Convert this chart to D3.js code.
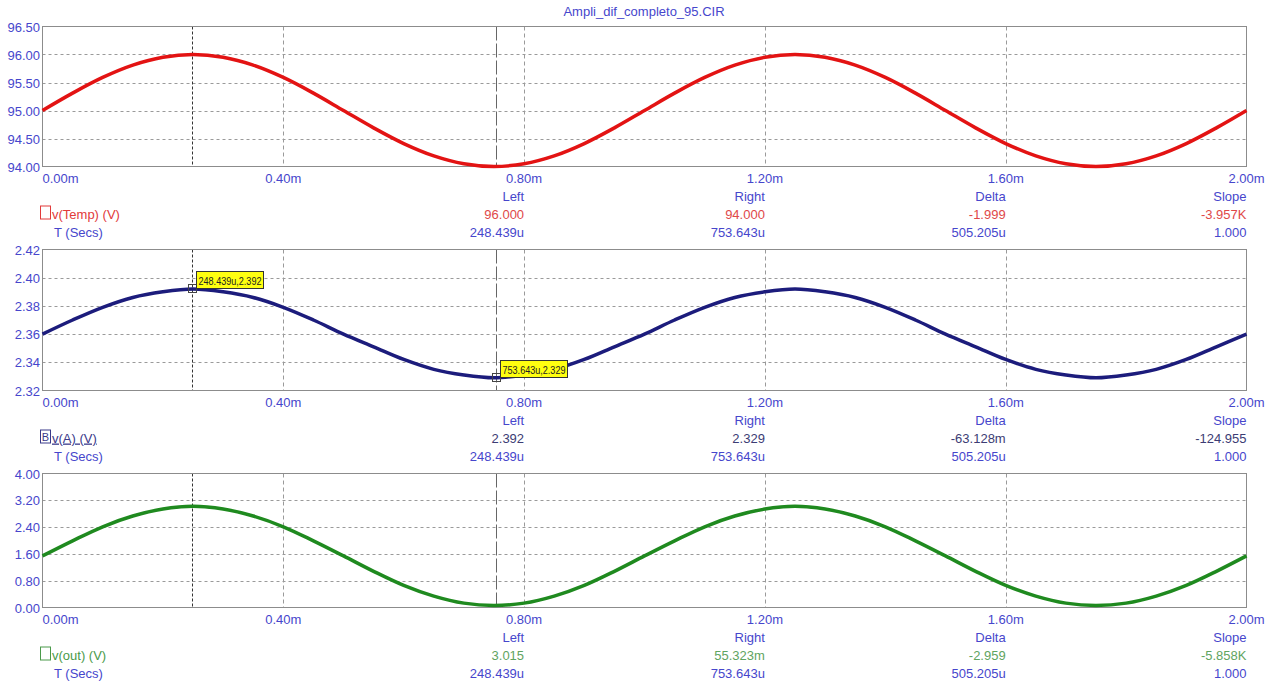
<!DOCTYPE html>
<html>
<head>
<meta charset="utf-8">
<script src="https://cdn.jsdelivr.net/npm/d3@7"></script>
<style>
  html, body { margin: 0; padding: 0; background: #fff; }
  svg { display: block; font-family: "Liberation Sans", Arial, sans-serif; }
</style>
</head>
<body>
<svg width="1274" height="684"></svg>
<script>
// time axis, in ms
const timeMs = [0, 0.05, 0.1, 0.15, 0.2, 0.25, 0.3, 0.35, 0.4, 0.45, 0.5, 0.55, 0.6, 0.65, 0.7,
  0.75, 0.8, 0.85, 0.9, 0.95, 1.0, 1.05, 1.1, 1.15, 1.2, 1.25, 1.3, 1.35, 1.4, 1.45, 1.5,
  1.55, 1.6, 1.65, 1.7, 1.75, 1.8, 1.85, 1.9, 1.95, 2.0];

const tempValues = [95.00, 95.31, 95.59, 95.81, 95.95, 96.00, 95.95, 95.81, 95.59, 95.31, 95.00,
  94.69, 94.41, 94.19, 94.05, 94.00, 94.05, 94.19, 94.41, 94.69, 95.00,
  95.31, 95.59, 95.81, 95.95, 96.00, 95.95, 95.81, 95.59, 95.31, 95.00,
  94.69, 94.41, 94.19, 94.05, 94.00, 94.05, 94.19, 94.41, 94.69, 95.00];

const vaValues = [2.360, 2.370, 2.379, 2.386, 2.390, 2.392, 2.390, 2.386, 2.379, 2.370, 2.360,
  2.351, 2.342, 2.335, 2.331, 2.329, 2.331, 2.335, 2.342, 2.351, 2.360,
  2.370, 2.379, 2.386, 2.390, 2.392, 2.390, 2.386, 2.379, 2.370, 2.360,
  2.351, 2.342, 2.335, 2.331, 2.329, 2.331, 2.335, 2.342, 2.351, 2.360];

const voutValues = [1.54, 1.99, 2.41, 2.73, 2.94, 3.02, 2.94, 2.73, 2.41, 1.99, 1.54,
  1.08, 0.66, 0.34, 0.13, 0.06, 0.13, 0.34, 0.66, 1.08, 1.54,
  1.99, 2.41, 2.73, 2.94, 3.02, 2.94, 2.73, 2.41, 1.99, 1.54,
  1.08, 0.66, 0.34, 0.13, 0.06, 0.13, 0.34, 0.66, 1.08, 1.54];

const xTicks = [0, 0.4, 0.8, 1.2, 1.6, 2.0];
const xTickLabels = ["0.00m", "0.40m", "0.80m", "1.20m", "1.60m", "2.00m"];

const tempTicks = [94.0, 94.5, 95.0, 95.5, 96.0, 96.5];
const vaTicks = [2.32, 2.34, 2.36, 2.38, 2.40, 2.42];
const voutTicks = [0.0, 0.8, 1.6, 2.4, 3.2, 4.0];

// cursor positions (ms)
const cursorLeft = 0.248439;
const cursorRight = 0.753643;

const readoutHeads = ["Left", "Right", "Delta", "Slope"];
const tempReadout = ["96.000", "94.000", "-1.999", "-3.957K"];
const vaReadout = ["2.392", "2.329", "-63.128m", "-124.955"];
const voutReadout = ["3.015", "55.323m", "-2.959", "-5.858K"];
const timeReadout = ["248.439u", "753.643u", "505.205u", "1.000"];

const cursorTips = ["248.439u,2.392", "753.643u,2.329"];
const cursorTipValues = [2.392, 2.329];

const title = "Ampli_dif_completo_95.CIR";

// ---------------- rendering ----------------
const blue = "#4646cc";
const svg = d3.select("svg");

const x = d3.scaleLinear().domain([0, 2]).range([42.5, 1246.5]);

const panels = [
  { values: tempValues, ticks: tempTicks, fmt: d3.format(".2f"), top: 26.5, bottom: 166.5,
    color: "#e31313", label: "v(Temp) (V)", labelColor: "#e23a3a", valueColor: "#e04848",
    readout: tempReadout },
  { values: vaValues, ticks: vaTicks, fmt: d3.format(".2f"), top: 249.5, bottom: 390.5,
    color: "#1c1c7c", label: "v(A) (V)", labelColor: "#3a3a8a", valueColor: "#3c3c74",
    readout: vaReadout, boxed: "B", tips: true },
  { values: voutValues, ticks: voutTicks, fmt: d3.format(".2f"), top: 473.5, bottom: 607.5,
    color: "#1f8a1f", label: "v(out) (V)", labelColor: "#4a9a4a", valueColor: "#5fa45f",
    readout: voutReadout }
];

svg.append("text")
  .attr("x", 644).attr("y", 16)
  .attr("text-anchor", "middle")
  .attr("font-size", 13)
  .attr("fill", blue)
  .text(title);

panels.forEach((p) => {
  const y = d3.scaleLinear()
    .domain([p.ticks[0], p.ticks[p.ticks.length - 1]])
    .range([p.bottom, p.top]);
  const g = svg.append("g");

  // horizontal dotted grid
  g.selectAll("line.hg")
    .data(p.ticks.slice(1, -1))
    .enter().append("line")
    .attr("x1", x(0)).attr("x2", x(2))
    .attr("y1", (d) => Math.round(y(d)) + 0.5).attr("y2", (d) => Math.round(y(d)) + 0.5)
    .attr("stroke", "#9a9a9a").attr("stroke-dasharray", "3,3");

  // vertical dashed grid
  g.selectAll("line.vg")
    .data(xTicks.slice(1, -1))
    .enter().append("line")
    .attr("x1", (d) => Math.round(x(d)) + 0.5).attr("x2", (d) => Math.round(x(d)) + 0.5)
    .attr("y1", p.top).attr("y2", p.bottom)
    .attr("stroke", "#9a9a9a").attr("stroke-dasharray", "4,3");

  // cursors
  g.append("line")
    .attr("x1", Math.round(x(cursorLeft)) + 0.5).attr("x2", Math.round(x(cursorLeft)) + 0.5)
    .attr("y1", p.top).attr("y2", p.bottom)
    .attr("stroke", "#333").attr("stroke-dasharray", "3,2");
  g.append("line")
    .attr("x1", Math.round(x(cursorRight)) + 0.5).attr("x2", Math.round(x(cursorRight)) + 0.5)
    .attr("y1", p.top).attr("y2", p.bottom)
    .attr("stroke", "#666").attr("stroke-dasharray", "14,3");

  // frame
  g.append("rect")
    .attr("x", x(0)).attr("y", p.top)
    .attr("width", x(2) - x(0)).attr("height", p.bottom - p.top)
    .attr("fill", "none").attr("stroke", "#8c8c8c");

  // y tick labels
  g.selectAll("text.yt")
    .data(p.ticks)
    .enter().append("text")
    .attr("x", 40).attr("y", (d) => y(d) + 5)
    .attr("text-anchor", "end")
    .attr("font-size", 13)
    .attr("fill", blue)
    .text((d) => p.fmt(d));

  // x tick labels
  g.selectAll("text.xt")
    .data(xTicks)
    .enter().append("text")
    .attr("x", (d) => x(d))
    .attr("y", p.bottom + 16)
    .attr("text-anchor", (d, i) => (i === 0 ? "start" : "middle"))
    .attr("font-size", 13)
    .attr("fill", blue)
    .text((d, i) => xTickLabels[i]);

  // curve
  const line = d3.line()
    .curve(d3.curveCatmullRom)
    .x((d, i) => x(timeMs[i]))
    .y((d) => y(d));
  g.append("path")
    .attr("d", line(p.values))
    .attr("fill", "none")
    .attr("stroke", p.color)
    .attr("stroke-width", 3.5)
    .attr("stroke-linejoin", "round");

  // readout columns, right aligned on the 0.8 / 1.2 / 1.6 / 2.0 grid
  const colX = xTicks.slice(2);
  readoutHeads.forEach((h, i) => {
    const cx = x(colX[i]);
    g.append("text").attr("x", cx).attr("y", p.bottom + 34)
      .attr("text-anchor", "end").attr("font-size", 13).attr("fill", blue).text(h);
    g.append("text").attr("x", cx).attr("y", p.bottom + 52)
      .attr("text-anchor", "end").attr("font-size", 13).attr("fill", p.valueColor).text(p.readout[i]);
    g.append("text").attr("x", cx).attr("y", p.bottom + 70)
      .attr("text-anchor", "end").attr("font-size", 13).attr("fill", blue).text(timeReadout[i]);
  });

  // legend on the left
  g.append("rect")
    .attr("x", 40.5).attr("y", p.bottom + 39.5)
    .attr("width", 10).attr("height", 13)
    .attr("fill", "none").attr("stroke", p.boxed ? "#3a3a8a" : p.labelColor);
  if (p.boxed) {
    g.append("text").attr("x", 45.5).attr("y", p.bottom + 50.5)
      .attr("text-anchor", "middle").attr("font-size", 11).attr("fill", "#3a3a8a").text(p.boxed);
  }
  g.append("text").attr("x", 52).attr("y", p.bottom + 52)
    .attr("font-size", 13).attr("fill", p.labelColor)
    .attr("text-decoration", p.boxed ? "underline" : null)
    .text(p.label);
  g.append("text").attr("x", 54).attr("y", p.bottom + 70)
    .attr("font-size", 13).attr("fill", blue).text("T (Secs)");

  // cursor tags
  if (p.tips) {
    [cursorLeft, cursorRight].forEach((c, i) => {
      const px = x(c), py = y(cursorTipValues[i]);
      g.append("rect")
        .attr("x", Math.round(px) - 3.5).attr("y", Math.round(py) - 4.5)
        .attr("width", 8).attr("height", 8)
        .attr("fill", "none").attr("stroke", "#444");
      const tx = Math.round(px) + 4.5, ty = Math.round(py) - 17.5;
      g.append("rect")
        .attr("x", tx).attr("y", ty)
        .attr("width", 67).attr("height", 17)
        .attr("fill", "#ffff10").attr("stroke", "#333");
      g.append("text")
        .attr("x", tx + 2).attr("y", ty + 13)
        .attr("font-size", 11.5).attr("fill", "#222")
        .attr("textLength", 63).attr("lengthAdjust", "spacingAndGlyphs")
        .text(cursorTips[i]);
    });
  }
});
</script>
</body>
</html>
